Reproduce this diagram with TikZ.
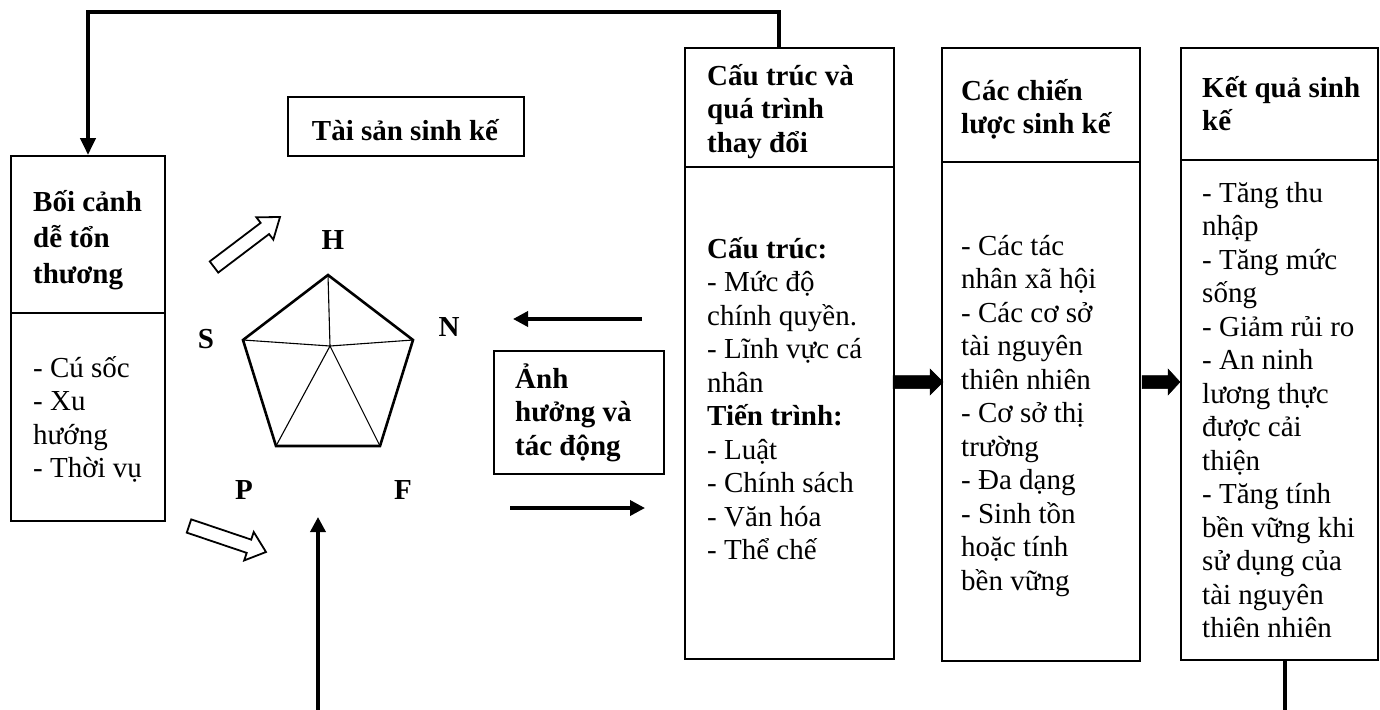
\documentclass[tikz,border=0pt]{standalone}
\usepackage{fontspec}
\setmainfont{Liberation Serif}
\usetikzlibrary{arrows.meta,calc}
\newcommand{\firstln}{\rule{0pt}{30pt}}
\begin{document}
\begin{tikzpicture}[x=1pt,y=-1pt,
  box/.style={draw,line width=2pt,inner sep=0pt,anchor=north west},
  txt/.style={inner sep=0pt,anchor=north west,align=left,font={\fontsize{29}{33.5}\selectfont\lineskiplimit-30pt}},
  ttl/.style={inner sep=0pt,anchor=north west,align=left,font={\fontsize{29}{33.5}\selectfont\bfseries\lineskiplimit-30pt}},
  lab/.style={inner sep=0pt,font={\fontsize{29}{33.5}\selectfont\bfseries}},
  divider/.style={line width=2pt},
  conn/.style={line width=3.5pt,-{Triangle[length=15pt,width=15pt]}},
  fbconn/.style={line width=4pt,-{Triangle[length=17pt,width=15pt]}},
  thick arr/.style={fill=black,draw=black,line width=0.5pt},
  hol/.style={draw=black,fill=white,line width=1.8pt,line join=miter},
  outer/.style={line width=2.6pt,line join=miter},
  inner/.style={line width=1.1pt}
]
\useasboundingbox[fill=white] (0,0) rectangle (1380,709);

% ---------- boxes ----------
\node[box,minimum width=154pt,minimum height=365pt] (b1) at (10,155) {};
\draw[divider] (b1.west |- 0,313) -- (b1.east |- 0,313);
\node[ttl,font={\fontsize{29}{36}\selectfont\bfseries\lineskiplimit-30pt}] (b1t) at (33,181) {\firstln Bối cảnh\\dễ tổn\\thương};
\node[txt] (b1b) at (33,347) {\firstln - Cú sốc\\- Xu\\hướng\\- Thời vụ};

\node[box,minimum width=236pt,minimum height=59pt] (ts) at (287,96) {};
\node[lab] (tst) at (405,130) {Tài sản sinh kế};

\node[box,minimum width=209pt,minimum height=611pt] (ct) at (684,47) {};
\draw[divider] (ct.west |- 0,167) -- (ct.east |- 0,167);
\node[ttl] (ctt) at (707,55) {\firstln Cấu trúc và\\quá trình\\thay đổi};
\node[txt] (ctb) at (707,228) {\firstln\textbf{Cấu trúc:}\\- Mức độ\\chính quyền.\\- Lĩnh vực cá\\nhân\\\textbf{Tiến trình:}\\- Luật\\- Chính sách\\- Văn hóa\\- Thể chế};

\node[box,minimum width=198pt,minimum height=613pt] (cl) at (941,47) {};
\draw[divider] (cl.west |- 0,162) -- (cl.east |- 0,162);
\node[ttl] (clt) at (961,70) {\firstln Các chiến\\lược sinh kế};
\node[txt] (clb) at (961,225) {\firstln - Các tác\\nhân xã hội\\- Các cơ sở\\tài nguyên\\thiên nhiên\\- Cơ sở thị\\trường\\- Đa dạng\\- Sinh tồn\\hoặc tính\\bền vững};

\node[box,minimum width=197pt,minimum height=612pt] (kq) at (1180,47) {};
\draw[divider] (kq.west |- 0,160) -- (kq.east |- 0,160);
\node[ttl] (kqt) at (1202,67) {\firstln Kết quả sinh\\kế};
\node[txt] (kqb) at (1202,172) {\firstln - Tăng thu\\nhập\\- Tăng mức\\sống\\- Giảm rủi ro\\- An ninh\\lương thực\\được cải\\thiện\\- Tăng tính\\bền vững khi\\sử dụng của\\tài nguyên\\thiên nhiên};

\node[box,minimum width=170pt,minimum height=123pt] (ah) at (493,350) {};
\node[ttl] (aht) at (515,358) {\firstln Ảnh\\hưởng và\\tác động};

% ---------- pentagon ----------
\coordinate (pH) at (328,275);
\coordinate (pN) at (413,340);
\coordinate (pF) at (380,446);
\coordinate (pP) at (276,446);
\coordinate (pS) at (243,340);
\coordinate (pC) at (330,346);
\draw[inner] (pH) -- (pC) (pN) -- (pC) (pS) -- (pC) (pP) -- (pC) (pF) -- (pC);
\draw[outer] (pH) -- (pN) -- (pF) -- (pP) -- (pS) -- cycle;
\node[lab] (lH) at (333,240) {H};
\node[lab] (lN) at (449,327) {N};
\node[lab] (lS) at (206,339) {S};
\node[lab] (lP) at (244,490) {P};
\node[lab] (lF) at (403,490) {F};

% ---------- hollow arrows ----------
\newcommand{\holarrow}[5]{% tail, tip, shaft half, head half, head length
  \coordinate (#1h) at ($(#2)!#5!(#1)$);
  \draw[hol] ($(#1)!#3!90:(#2)$) -- ($(#1h)!#3!90:(#2)$) -- ($(#1h)!#4!90:(#2)$)
    -- (#2) -- ($(#1h)!#4!-90:(#2)$) -- ($(#1h)!#3!-90:(#2)$) -- ($(#1)!#3!-90:(#2)$) -- cycle;}
\coordinate (hat) at (214,267);
\coordinate (hap) at (280,217);
\holarrow{hat}{hap}{7pt}{14pt}{19pt}
\coordinate (hbt) at (189,526);
\coordinate (hbp) at (266,552);
\holarrow{hbt}{hbp}{7pt}{15pt}{18pt}

% ---------- thick arrows between boxes ----------
\coordinate (ta1s) at (893,382);
\coordinate (ta1e) at (943,382);
\fill[thick arr] (ta1s) ++(0,-6.5) -- ++(37,0) -- ++(0,-6.5) -- (ta1e) -- ++(-13,13) -- ++(0,-6.5) -- ++(-37,0) -- cycle;
\coordinate (ta2s) at (1142,382);
\coordinate (ta2e) at (1180,382);
\fill[thick arr] (ta2s) ++(0,-6.5) -- ++(26,0) -- ++(0,-6.5) -- (ta2e) -- ++(-12,13) -- ++(0,-6.5) -- ++(-26,0) -- cycle;

% ---------- thin arrows ----------
\coordinate (la1) at (642,319);
\coordinate (la2) at (513,319);
\draw[conn] (la1) -- (la2);
\coordinate (ra1) at (510,508);
\coordinate (ra2) at (645,508);
\draw[conn] (ra1) -- (ra2);

% ---------- feedback connectors ----------
\coordinate (ctTop) at (779,47);
\draw[fbconn] (ctTop) -- (779,12) -| (b1.north);
\coordinate (kqBot) at (1285,659);
\coordinate (penIn) at (318,517);
\draw[conn] (kqBot) -- (1285,713) -| (penIn);
\end{tikzpicture}
\end{document}
